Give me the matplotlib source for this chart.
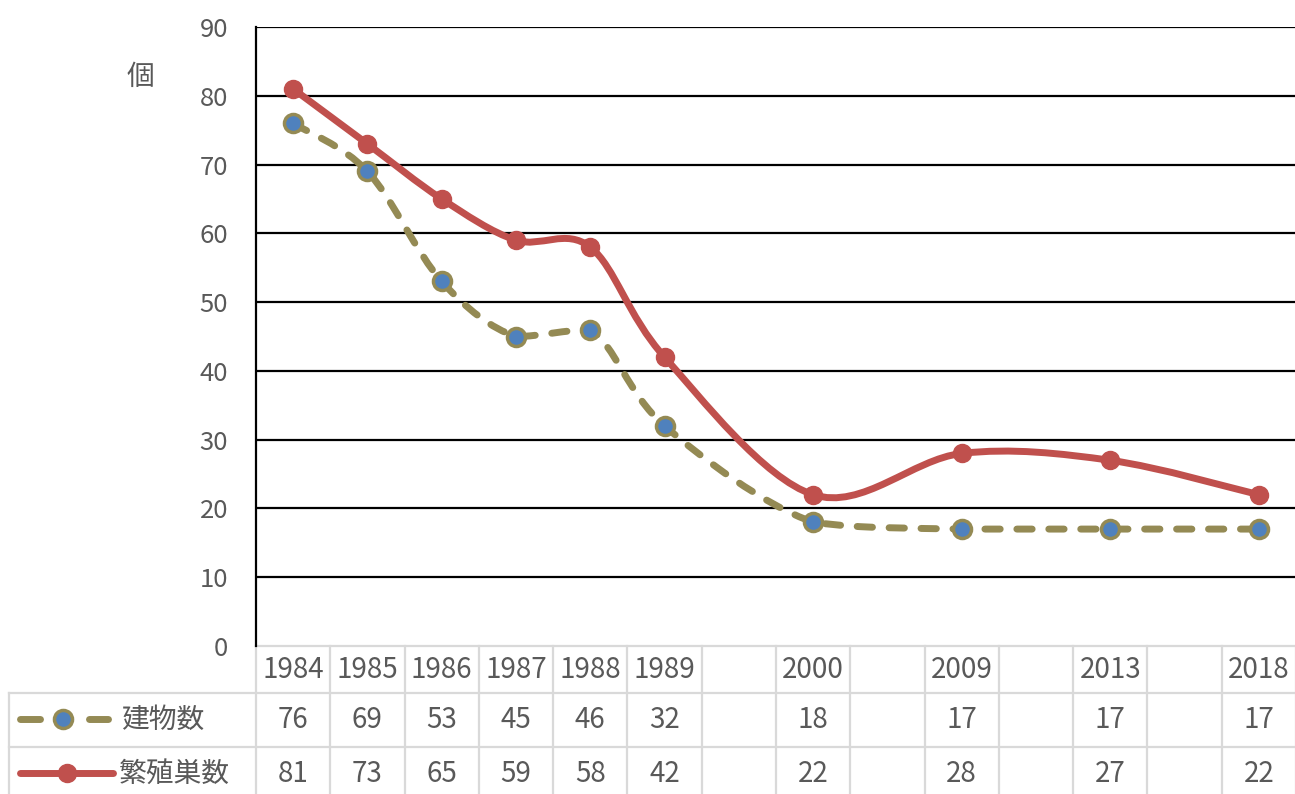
import matplotlib
matplotlib.use("Agg")
import matplotlib.pyplot as plt
from matplotlib.path import Path
from matplotlib.patches import PathPatch
from matplotlib.lines import Line2D
from matplotlib.transforms import blended_transform_factory
import numpy as np

plt.rcParams['font.family'] = ['Noto Sans CJK JP', 'DejaVu Sans']

# categories (blank ones are gaps on the axis)
years = ['1984', '1985', '1986', '1987', '1988', '1989', '', '2000', '', '2009', '', '2013', '', '2018']
buildings = [76, 69, 53, 45, 46, 32, None, 18, None, 17, None, 17, None, 17]
nests = [81, 73, 65, 59, 58, 42, None, 22, None, 28, None, 27, None, 22]
series_names = ['建物数', '繁殖巣数']
yticks = [0, 10, 20, 30, 40, 50, 60, 70, 80, 90]

OLIVE = '#948A54'
BLUE = '#4F81BD'
RED = '#C0504D'
GRAY = '#595959'
BORDER = '#D9D9D9'

W, H = 1295, 794
fig = plt.figure(figsize=(W / 100, H / 100), dpi=100)
ax = fig.add_axes([256 / W, 1 - 646 / H, 1040 / W, (646 - 27) / H])
ax.set_xlim(-0.5, len(years) - 0.5)
ax.set_ylim(0, 90)


def smooth_path(xs, ys, clamp=False):
    # excel-like smoothing: bezier with catmull-rom control points
    pts = np.column_stack([xs, ys]).astype(float)
    verts = [pts[0]]
    codes = [Path.MOVETO]
    n = len(pts)
    for i in range(n - 1):
        p0 = pts[i - 1] if i > 0 else pts[i]
        p1 = pts[i]
        p2 = pts[i + 1]
        p3 = pts[i + 2] if i + 2 < n else pts[i + 1]
        c1 = p1 + (p2 - p0) / 6.0
        c2 = p2 - (p3 - p1) / 6.0
        if clamp:
            lo, hi = min(p1[1], p2[1]), max(p1[1], p2[1])
            c1[1] = np.clip(c1[1], lo, hi)
            c2[1] = np.clip(c2[1], lo, hi)
        verts += [c1, c2, p2]
        codes += [Path.CURVE4] * 3
    return Path(verts, codes)


def valid(vals):
    idx = [i for i, v in enumerate(vals) if v is not None]
    return np.array(idx), np.array([vals[i] for i in idx])


# gridlines
ax.hlines(yticks[1:], -0.5, len(years) - 0.5, colors='black', lw=1.6, zorder=1)

for sp in ['top', 'right', 'bottom']:
    ax.spines[sp].set_visible(False)
ax.spines['left'].set_color('black')
ax.spines['left'].set_linewidth(1.6)
ax.set_yticks(yticks)
ax.set_yticklabels([str(t) for t in yticks], fontsize=18.5, color=GRAY)
ax.tick_params(axis='y', length=0, pad=20)
ax.set_xticks([])

# 建物数 (dashed, olive with blue markers)
bx, by = valid(buildings)
ax.add_patch(PathPatch(smooth_path(bx, by, clamp=True), fill=False, edgecolor=OLIVE, lw=5,
                       linestyle=(0, (2.2, 2.4)), capstyle='round', zorder=3))
ax.plot(bx, by, 'o', ms=13, mfc=BLUE, mec=OLIVE, mew=2.5, zorder=4)

# 繁殖巣数 (solid red)
nx, ny = valid(nests)
ax.add_patch(PathPatch(smooth_path(nx, ny), fill=False, edgecolor=RED, lw=5,
                       capstyle='round', joinstyle='round', zorder=3))
ax.plot(nx, ny, 'o', ms=13, mfc=RED, mec=RED, zorder=4)

# y-axis unit label
fig.text(140 / W, 1 - 77 / H, '個', fontsize=20, color=GRAY, ha='center', va='center')

# data table below the axis
tr = blended_transform_factory(ax.transData, fig.transFigure)


def fy(p):
    return 1 - p / H


def fx(p):
    return p / W


rows_y = [646, 693, 747, 800]
for i in range(len(years) + 1):
    ax.add_line(Line2D([i - 0.5, i - 0.5], [fy(646), fy(800)], transform=tr,
                       color=BORDER, lw=1.6, clip_on=False))
ax.add_line(Line2D([-0.5, len(years)], [fy(646), fy(646)], transform=tr,
                   color=BORDER, lw=1.6, clip_on=False))
for yy in rows_y[1:3]:
    fig.add_artist(Line2D([fx(9), 1.0], [fy(yy), fy(yy)], color=BORDER, lw=1.6))
fig.add_artist(Line2D([fx(9), fx(9)], [fy(693), fy(800)], color=BORDER, lw=1.6))

for i, yr in enumerate(years):
    ax.text(i, fy(670), yr, transform=tr, ha='center', va='center',
            fontsize=20, color=GRAY, clip_on=False)
    if buildings[i] is not None:
        ax.text(i, fy(720), str(buildings[i]), transform=tr, ha='center', va='center',
                fontsize=20, color=GRAY, clip_on=False)
    if nests[i] is not None:
        ax.text(i, fy(774), str(nests[i]), transform=tr, ha='center', va='center',
                fontsize=20, color=GRAY, clip_on=False)

fig.text(fx(121), fy(720), series_names[0], fontsize=20, color=GRAY, ha='left', va='center')
fig.text(fx(119), fy(774), series_names[1], fontsize=20, color=GRAY, ha='left', va='center')

# legend keys in table
for x0, x1 in [(20, 40), (89, 108)]:
    fig.add_artist(Line2D([fx(x0), fx(x1)], [fy(719), fy(719)], color=OLIVE, lw=5,
                          solid_capstyle='round'))
fig.add_artist(Line2D([fx(63)], [fy(719)], marker='o', ms=13, mfc=BLUE, mec=OLIVE, mew=2.5))
fig.add_artist(Line2D([fx(20), fx(113)], [fy(773), fy(773)], color=RED, lw=5,
                      solid_capstyle='round'))
fig.add_artist(Line2D([fx(67)], [fy(773)], marker='o', ms=13, mfc=RED, mec=RED))

fig.savefig('out.png', dpi=100)
